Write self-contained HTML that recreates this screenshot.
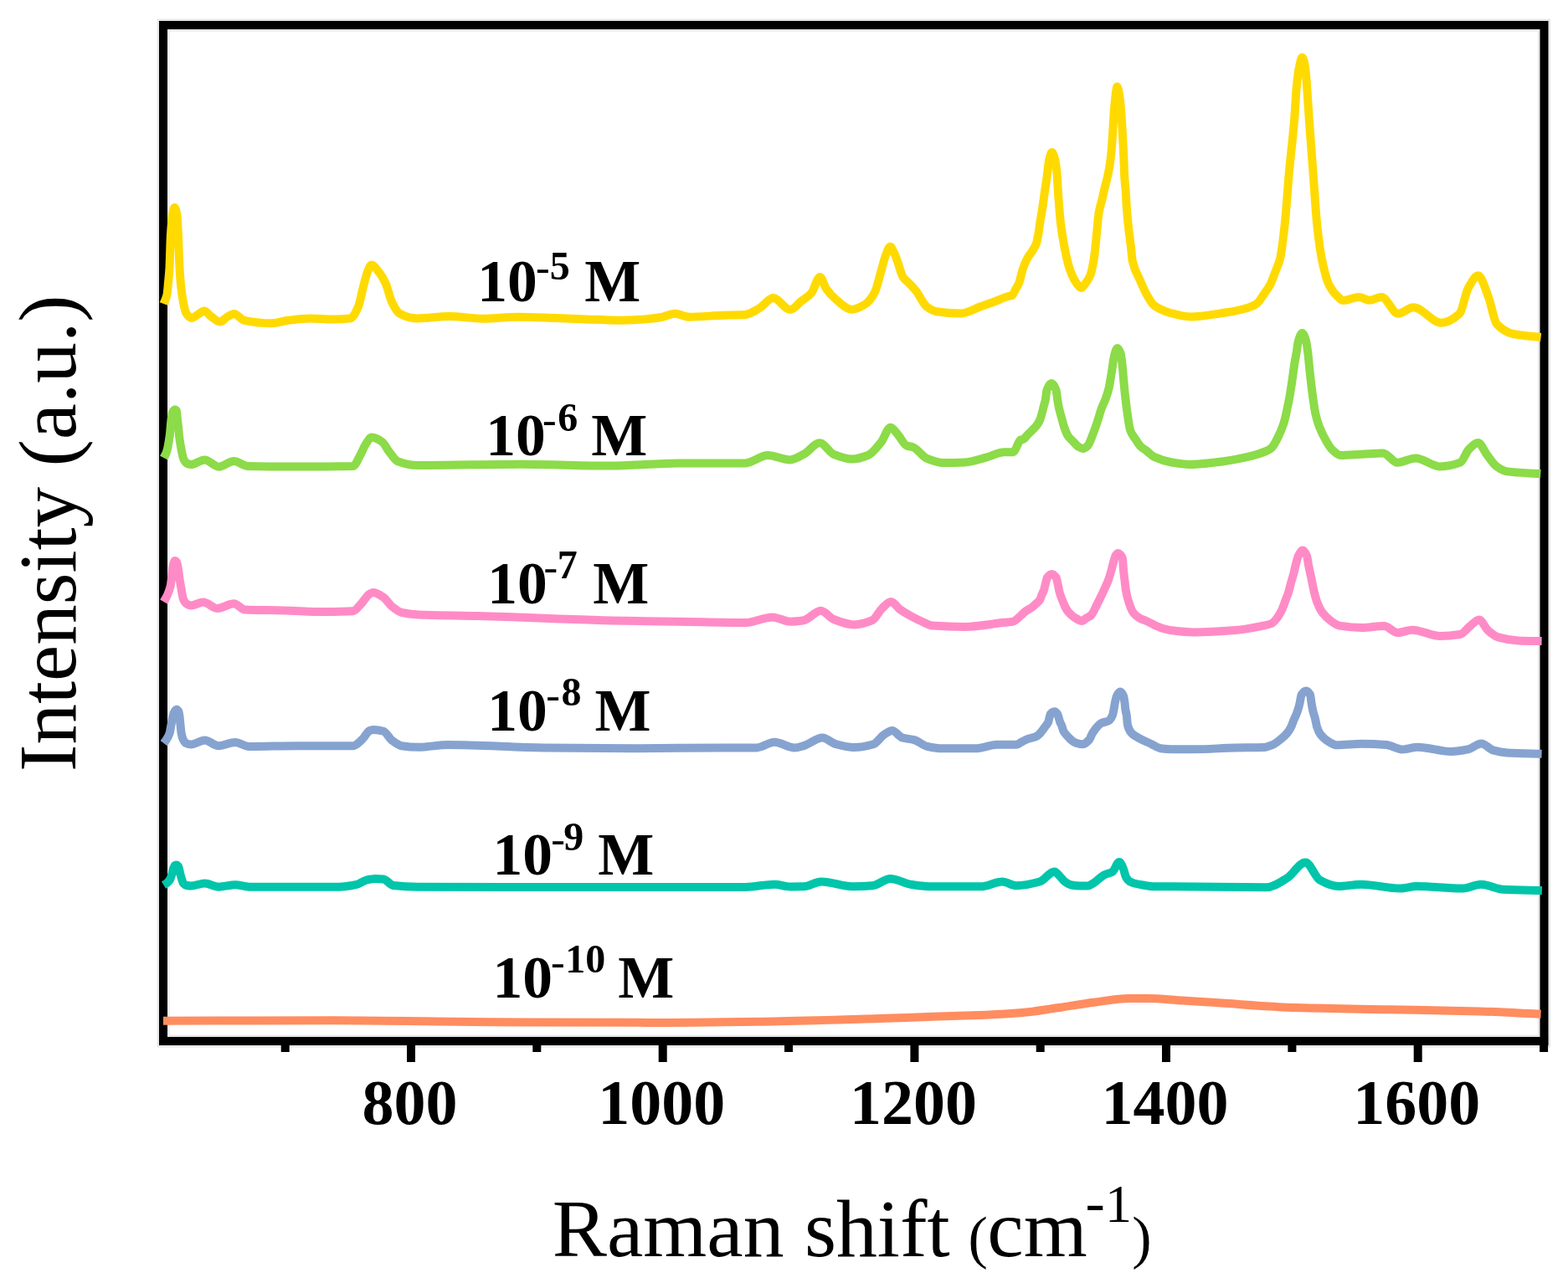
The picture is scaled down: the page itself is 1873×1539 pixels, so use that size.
<!DOCTYPE html>
<html><head><meta charset="utf-8"><style>
html,body{margin:0;padding:0;background:#fff;}
body{width:1873px;height:1539px;overflow:hidden;}
svg{display:block;}
text{font-family:"Liberation Serif","Times New Roman",serif;fill:#000;}
.lb{font-weight:bold;}

.tl{font-size:76px;font-weight:bold;}

</style></head><body>
<svg width="1873" height="1539" viewBox="0 0 1873 1539">
<rect width="1873" height="1539" fill="#fff"/>
<rect x="195" y="30" width="1649.5" height="1214" fill="none" stroke="#e8e8e8" stroke-width="15"/>
<rect x="195" y="30" width="1649.5" height="1214" fill="none" stroke="#000" stroke-width="10"/>
<rect x="486.0" y="1240" width="10" height="29" fill="#000"/>
<rect x="786.7" y="1240" width="10" height="29" fill="#000"/>
<rect x="1087.4" y="1240" width="10" height="29" fill="#000"/>
<rect x="1388.0" y="1240" width="10" height="29" fill="#000"/>
<rect x="1688.7" y="1240" width="10" height="29" fill="#000"/>
<rect x="335.7" y="1240" width="10" height="17" fill="#000"/>
<rect x="636.3" y="1240" width="10" height="17" fill="#000"/>
<rect x="937.0" y="1240" width="10" height="17" fill="#000"/>
<rect x="1237.7" y="1240" width="10" height="17" fill="#000"/>
<rect x="1538.4" y="1240" width="10" height="17" fill="#000"/>
<rect x="1839.1" y="1240" width="10" height="17" fill="#000"/>
<path d="M195.5 363.0C196.8 359.3 198.2 358.2 199.5 352.0C200.0 349.7 200.5 342.8 201.0 337.5C201.5 332.2 202.0 328.4 202.5 320.0C202.9 312.8 203.4 290.3 203.8 283.0C204.6 269.5 205.4 260.4 206.2 256.0C206.9 252.0 207.7 248.0 208.4 248.0C209.4 248.0 210.5 251.4 211.5 257.0C212.0 259.7 212.5 272.8 213.0 283.0C213.5 293.2 214.0 311.5 214.5 320.0C215.1 329.7 215.6 336.7 216.2 342.0C217.0 349.9 217.9 355.8 218.7 360.0C220.0 366.5 221.2 372.6 222.5 374.5C224.7 377.7 226.8 380.0 229.0 380.0C231.3 380.0 233.7 377.3 236.0 376.0C238.7 374.5 241.3 371.5 244.0 371.5C246.7 371.5 249.3 376.2 252.0 378.0C255.7 380.5 259.3 384.5 263.0 384.5C265.7 384.5 268.3 380.5 271.0 379.0C273.8 377.4 276.7 375.0 279.5 375.0C283.6 375.0 287.6 382.0 291.7 382.8C302.7 385.0 313.6 386.3 324.6 386.3C331.3 386.3 337.9 383.6 344.6 382.8C353.2 381.7 361.8 380.4 370.4 380.4C379.4 380.4 388.5 381.6 397.5 381.6C404.5 381.6 411.6 381.3 418.6 380.4C421.7 380.0 424.9 373.4 428.0 366.3C430.0 361.9 431.9 350.2 433.9 342.9C435.8 335.8 437.8 327.0 439.7 322.9C441.1 320.0 442.4 316.5 443.8 316.5C446.8 316.5 449.7 321.5 452.7 325.2C455.4 328.6 458.2 333.3 460.9 339.3C463.2 344.5 465.6 355.7 467.9 360.5C471.0 366.9 474.2 372.9 477.3 374.6C484.0 378.1 490.6 380.4 497.3 380.4C510.4 380.4 523.6 378.0 536.7 378.0C550.1 378.0 563.4 380.7 576.8 380.7C590.5 380.7 604.3 378.7 618.0 378.7C633.2 378.7 648.3 379.5 663.5 380.0C675.7 380.4 687.8 381.1 700.0 381.5C713.3 382.0 726.7 382.7 740.0 382.7C750.0 382.7 760.0 382.1 770.0 381.4C776.7 381.0 783.3 380.1 790.0 379.0C795.3 378.1 800.7 374.7 806.0 374.7C811.8 374.7 817.6 378.7 823.4 378.7C836.8 378.7 850.1 377.2 863.5 376.7C872.3 376.4 881.2 376.5 890.0 376.0C895.8 375.7 901.7 371.3 907.5 368.0C912.8 365.0 918.2 356.0 923.5 356.0C930.3 356.0 937.2 370.0 944.0 370.0C948.3 370.0 952.7 363.4 957.0 360.0C961.1 356.7 965.3 354.7 969.4 349.9C972.7 346.1 976.1 331.0 979.4 331.0C981.9 331.0 984.5 341.7 987.0 345.2C990.9 350.7 994.9 354.8 998.8 358.0C1005.1 363.1 1011.3 369.8 1017.6 369.8C1022.7 369.8 1027.7 367.0 1032.8 364.0C1036.7 361.7 1040.7 357.0 1044.6 349.9C1047.3 345.0 1050.1 332.1 1052.8 322.9C1054.5 317.1 1056.3 309.3 1058.0 305.0C1059.8 300.6 1061.6 294.7 1063.4 294.7C1064.9 294.7 1066.5 299.0 1068.0 302.0C1069.2 304.4 1070.4 307.8 1071.6 311.0C1073.9 317.2 1076.3 327.5 1078.6 331.0C1081.3 335.1 1084.1 336.4 1086.8 339.3C1089.5 342.2 1092.3 345.2 1095.0 348.7C1098.9 353.8 1102.9 363.4 1106.8 366.3C1110.7 369.2 1114.7 371.6 1118.6 372.2C1128.4 373.7 1138.2 374.5 1148.0 374.5C1155.8 374.5 1163.6 369.1 1171.4 366.3C1177.1 364.3 1182.7 362.3 1188.4 360.2C1193.7 358.2 1199.1 355.4 1204.4 354.0C1205.9 353.6 1207.5 353.6 1209.0 353.0C1210.3 352.5 1211.7 348.4 1213.0 346.0C1214.4 343.4 1215.9 341.6 1217.3 338.0C1218.7 334.4 1220.2 326.2 1221.6 322.0C1223.4 316.7 1225.2 312.4 1227.0 309.0C1229.3 304.6 1231.7 302.5 1234.0 298.5C1235.3 296.3 1236.6 294.6 1237.9 291.0C1238.7 288.8 1239.5 284.4 1240.3 280.0C1241.1 275.8 1241.8 268.9 1242.6 264.0C1243.4 258.9 1244.2 255.2 1245.0 250.0C1245.8 244.6 1246.7 237.8 1247.5 232.0C1248.5 225.1 1249.5 219.3 1250.5 212.0C1251.3 205.9 1252.2 195.6 1253.0 192.0C1254.2 187.0 1255.3 182.0 1256.5 182.0C1257.7 182.0 1258.8 185.9 1260.0 190.0C1260.8 192.9 1261.7 198.9 1262.5 207.0C1263.1 212.8 1263.7 226.9 1264.3 235.0C1265.2 247.2 1266.1 259.2 1267.0 266.8C1268.6 280.6 1270.3 289.4 1271.9 297.5C1273.9 307.6 1276.0 316.4 1278.0 322.1C1280.3 328.6 1282.7 333.7 1285.0 337.0C1287.2 340.1 1289.4 344.0 1291.6 344.0C1293.4 344.0 1295.2 340.4 1297.0 338.0C1298.9 335.5 1300.7 333.1 1302.6 328.2C1304.2 323.9 1305.9 314.9 1307.5 303.7C1308.3 298.0 1309.2 287.3 1310.0 279.1C1310.8 270.9 1311.7 259.6 1312.5 254.6C1313.7 247.6 1314.8 244.9 1316.0 240.0C1317.2 235.1 1318.3 229.8 1319.5 225.0C1320.7 220.2 1321.8 216.3 1323.0 211.0C1323.8 207.2 1324.7 203.3 1325.5 198.0C1326.2 193.8 1326.8 188.9 1327.5 182.0C1328.1 176.2 1328.6 166.4 1329.2 158.0C1329.8 149.1 1330.4 137.3 1331.0 130.0C1331.6 122.7 1332.2 116.0 1332.8 112.0C1333.4 108.2 1333.9 103.5 1334.5 103.5C1335.7 103.5 1336.8 111.7 1338.0 120.0C1338.9 126.7 1339.9 142.7 1340.8 158.0C1341.3 166.2 1341.8 176.1 1342.3 187.5C1342.6 194.3 1342.9 205.9 1343.2 211.0C1343.7 220.0 1344.3 222.0 1344.8 230.0C1345.1 234.0 1345.3 241.1 1345.6 245.0C1346.5 257.6 1347.3 265.6 1348.2 273.5C1349.1 281.4 1349.9 286.7 1350.8 294.0C1351.5 299.6 1352.1 309.0 1352.8 312.0C1355.7 325.2 1358.7 327.6 1361.6 334.4C1364.5 341.1 1367.3 347.9 1370.2 352.8C1373.1 357.7 1375.9 362.9 1378.8 365.1C1384.9 369.7 1391.1 372.0 1397.2 373.7C1405.5 376.0 1413.7 378.4 1422.0 378.4C1435.9 378.4 1449.8 375.6 1463.7 373.5C1472.5 372.2 1481.2 370.6 1490.0 368.0C1493.5 367.0 1496.9 365.8 1500.4 363.6C1503.9 361.4 1507.3 354.9 1510.8 350.0C1512.9 347.1 1514.9 344.6 1517.0 340.7C1519.1 336.8 1521.2 330.5 1523.3 325.0C1525.2 320.1 1527.1 317.0 1529.0 309.5C1530.9 302.0 1532.8 285.3 1534.7 268.0C1536.4 252.2 1538.2 224.6 1539.9 205.6C1542.0 182.9 1544.0 168.2 1546.1 143.2C1547.1 131.5 1548.0 110.9 1549.0 101.6C1550.0 92.0 1551.0 84.6 1552.0 80.0C1553.2 74.7 1554.3 68.5 1555.5 68.5C1556.7 68.5 1557.8 73.8 1559.0 80.0C1559.7 83.5 1560.3 93.3 1561.0 101.6C1561.9 113.2 1562.9 130.0 1563.8 143.2C1565.4 165.3 1566.9 184.8 1568.5 205.6C1570.1 226.4 1571.6 253.1 1573.2 268.0C1575.1 286.0 1577.0 300.2 1578.9 309.5C1581.8 323.8 1584.8 335.0 1587.7 340.7C1591.4 347.8 1595.0 351.8 1598.7 355.0C1600.6 356.7 1602.5 359.0 1604.4 359.0C1610.7 359.0 1617.0 355.0 1623.3 355.0C1627.4 355.0 1631.5 358.7 1635.6 358.7C1640.5 358.7 1645.4 355.0 1650.3 355.0C1656.9 355.0 1663.4 374.7 1670.0 374.7C1676.1 374.7 1682.3 367.3 1688.4 367.3C1699.4 367.3 1710.5 385.7 1721.5 385.7C1728.9 385.7 1736.2 381.6 1743.6 374.7C1746.9 371.6 1750.2 351.0 1753.5 345.0C1757.6 337.6 1761.6 329.3 1765.7 329.3C1769.8 329.3 1773.9 344.5 1778.0 355.0C1781.3 363.4 1784.5 383.4 1787.8 387.0C1794.4 394.3 1800.9 397.6 1807.5 399.0C1818.5 401.4 1829.6 401.7 1840.6 403.0" fill="none" stroke="#FFDA00" stroke-width="10" stroke-linejoin="round" stroke-linecap="butt"/>
<path d="M195.5 547.0C196.7 544.7 197.8 543.4 199.0 540.0C200.3 536.4 201.5 529.2 202.8 520.0C203.4 515.4 204.1 503.9 204.7 500.0C205.3 496.3 205.9 493.0 206.5 492.0C207.3 490.6 208.2 489.5 209.0 489.5C209.7 489.5 210.3 489.9 211.0 491.0C211.3 491.4 211.5 497.4 211.8 500.0C212.2 503.9 212.6 506.4 213.0 510.0C213.4 513.9 213.9 519.7 214.3 523.0C215.1 529.4 216.0 533.9 216.8 538.0C217.7 542.4 218.6 547.4 219.5 549.0C221.0 551.8 222.5 553.4 224.0 554.0C225.3 554.5 226.7 555.0 228.0 555.0C233.5 555.0 239.1 549.4 244.6 549.4C250.1 549.4 255.7 557.7 261.2 557.7C267.3 557.7 273.3 551.1 279.4 551.1C284.9 551.1 290.5 556.8 296.0 556.9C314.0 557.4 332.0 557.5 350.0 557.5C373.9 557.5 397.8 557.4 421.7 557.0C424.5 556.9 427.2 549.3 430.0 544.5C432.2 540.7 434.4 534.5 436.6 531.2C439.1 527.5 441.5 522.5 444.0 522.5C448.2 522.5 452.3 525.1 456.5 528.0C459.2 529.9 462.0 536.0 464.7 539.5C468.0 543.7 471.4 549.8 474.7 551.1C483.0 554.2 491.2 556.0 499.5 556.0C540.8 556.0 582.2 554.7 623.5 554.7C659.0 554.7 694.5 556.6 730.0 556.6C756.7 556.6 783.3 553.4 810.0 553.4C836.8 553.4 863.6 553.4 890.4 553.4C899.3 553.4 908.1 544.0 917.0 544.0C925.9 544.0 934.9 549.4 943.8 549.4C949.2 549.4 954.6 545.6 960.0 542.8C966.4 539.5 972.8 529.3 979.2 529.3C984.8 529.3 990.3 540.5 995.9 542.8C1003.2 545.7 1010.4 548.5 1017.7 548.5C1024.1 548.5 1030.5 546.5 1036.9 544.0C1042.0 542.0 1047.2 535.0 1052.3 528.7C1056.1 524.0 1060.0 510.7 1063.8 510.7C1066.8 510.7 1069.8 516.4 1072.8 519.7C1076.2 523.5 1079.6 531.1 1083.0 532.5C1085.6 533.5 1088.1 533.5 1090.7 534.4C1096.3 536.4 1101.8 545.6 1107.4 547.9C1113.8 550.5 1120.2 553.0 1126.6 553.0C1135.1 553.0 1143.7 552.8 1152.2 552.4C1160.7 552.0 1169.3 548.8 1177.8 546.6C1185.1 544.7 1192.3 540.2 1199.6 540.2C1203.1 540.2 1206.7 540.2 1210.2 540.2C1213.2 540.2 1216.2 526.6 1219.2 525.6C1220.1 525.3 1221.1 525.3 1222.0 525.0C1224.0 524.3 1226.0 521.0 1228.0 519.0C1230.3 516.7 1232.7 514.5 1235.0 512.0C1236.2 510.7 1237.4 509.6 1238.6 508.0C1239.9 506.2 1241.2 504.1 1242.5 501.0C1243.2 499.3 1243.9 496.5 1244.6 494.0C1245.3 491.6 1245.9 488.6 1246.6 486.0C1247.3 483.3 1248.0 481.6 1248.7 478.2C1249.3 475.3 1249.9 467.6 1250.5 466.0C1252.3 461.1 1254.2 458.0 1256.0 458.0C1257.8 458.0 1259.7 461.1 1261.5 466.0C1262.1 467.6 1262.7 474.5 1263.3 478.2C1263.9 481.7 1264.4 485.1 1265.0 487.7C1266.1 492.7 1267.2 496.0 1268.3 500.0C1269.3 503.8 1270.4 508.1 1271.4 511.0C1272.9 515.1 1274.3 518.8 1275.8 521.0C1277.7 523.8 1279.5 525.1 1281.4 527.0C1283.6 529.3 1285.8 532.3 1288.0 533.6C1289.9 534.7 1291.8 536.0 1293.7 536.0C1295.5 536.0 1297.2 534.6 1299.0 533.0C1301.3 531.0 1303.7 523.3 1306.0 517.5C1307.6 513.5 1309.2 508.8 1310.8 504.0C1312.5 499.0 1314.1 492.5 1315.8 488.0C1317.4 483.8 1318.9 481.3 1320.5 477.0C1321.8 473.4 1323.2 469.6 1324.5 464.0C1325.7 459.1 1326.8 451.0 1328.0 444.0C1329.0 438.0 1330.0 428.6 1331.0 425.0C1332.2 420.6 1333.5 416.0 1334.7 416.0C1336.0 416.0 1337.2 418.6 1338.5 422.0C1339.2 423.8 1339.8 429.4 1340.5 435.0C1341.0 439.2 1341.5 446.6 1342.0 452.0C1342.7 459.2 1343.3 466.7 1344.0 472.8C1344.9 480.7 1345.7 487.7 1346.6 493.6C1347.8 501.7 1349.0 511.1 1350.2 514.4C1352.3 520.2 1354.4 521.7 1356.5 525.0C1358.3 527.9 1360.2 531.1 1362.0 533.0C1364.7 535.7 1367.3 536.9 1370.0 539.0C1372.8 541.2 1375.6 544.4 1378.4 545.8C1385.5 549.2 1392.6 551.3 1399.7 552.5C1406.7 553.7 1413.7 554.9 1420.7 554.9C1430.9 554.9 1441.2 553.6 1451.4 552.5C1463.7 551.2 1475.9 549.0 1488.2 546.3C1496.4 544.5 1504.6 542.5 1512.8 538.9C1514.9 538.0 1516.9 536.9 1519.0 535.0C1521.9 532.4 1524.8 526.0 1527.7 520.0C1529.8 515.7 1531.8 511.0 1533.9 504.3C1535.1 500.4 1536.3 494.4 1537.5 488.8C1538.6 483.7 1539.7 478.3 1540.8 472.0C1541.8 466.3 1542.8 459.2 1543.8 452.4C1544.6 446.7 1545.5 439.7 1546.3 434.5C1547.1 429.5 1547.9 425.7 1548.7 421.0C1549.5 416.5 1550.2 409.4 1551.0 407.0C1552.5 402.2 1554.0 398.0 1555.5 398.0C1557.0 398.0 1558.5 402.1 1560.0 407.0C1560.7 409.4 1561.5 415.4 1562.2 421.0C1563.1 427.8 1564.0 438.9 1564.9 447.0C1565.9 456.3 1567.0 465.5 1568.0 473.0C1569.1 481.0 1570.2 489.0 1571.3 494.0C1572.9 501.1 1574.4 505.9 1576.0 510.0C1578.9 517.7 1581.9 523.1 1584.8 528.0C1586.9 531.5 1588.9 535.0 1591.0 537.0C1594.4 540.2 1597.8 543.9 1601.2 543.9C1609.7 543.9 1618.2 543.1 1626.7 542.7C1635.1 542.3 1643.6 541.4 1652.0 541.4C1657.8 541.4 1663.6 552.7 1669.4 552.7C1676.5 552.7 1683.7 547.4 1690.8 547.4C1700.6 547.4 1710.3 557.4 1720.1 557.4C1728.1 557.4 1736.2 555.8 1744.2 552.7C1747.7 551.3 1751.3 540.1 1754.8 536.7C1758.4 533.2 1761.9 529.0 1765.5 529.0C1769.1 529.0 1772.6 538.8 1776.2 543.4C1779.8 548.0 1783.3 554.1 1786.9 556.7C1791.3 559.9 1795.8 562.8 1800.2 563.4C1813.6 565.2 1826.9 565.2 1840.3 566.1" fill="none" stroke="#8CDB48" stroke-width="10" stroke-linejoin="round" stroke-linecap="butt"/>
<path d="M195.5 719.0C196.8 716.7 198.2 714.9 199.5 712.0C200.9 709.0 202.3 706.2 203.7 700.0C204.3 697.3 204.9 690.5 205.5 686.0C206.0 682.2 206.5 676.9 207.0 675.0C207.7 672.5 208.3 670.0 209.0 670.0C209.7 670.0 210.3 670.6 211.0 671.5C211.6 672.2 212.1 676.0 212.7 679.0C213.4 682.7 214.1 689.1 214.8 693.5C215.5 697.7 216.1 701.4 216.8 705.0C217.5 708.9 218.3 714.3 219.0 716.0C220.3 719.0 221.7 720.7 223.0 721.5C224.7 722.6 226.3 723.5 228.0 723.5C233.0 723.5 238.0 719.5 243.0 719.5C248.5 719.5 254.0 727.0 259.5 727.0C266.1 727.0 272.8 721.2 279.4 721.2C283.8 721.2 288.2 728.4 292.6 728.6C308.1 729.2 323.5 729.0 339.0 729.4C355.5 729.8 372.1 731.1 388.6 731.1C399.6 731.1 410.7 730.9 421.7 730.3C425.0 730.1 428.3 724.6 431.6 721.2C434.9 717.8 438.3 711.4 441.6 709.6C443.0 708.9 444.3 708.0 445.7 708.0C449.8 708.0 454.0 711.0 458.1 713.7C461.4 715.9 464.7 721.8 468.0 724.5C471.9 727.6 475.7 731.0 479.6 731.9C486.2 733.4 492.9 734.1 499.5 734.4C523.0 735.4 546.5 735.4 570.0 736.0C596.7 736.7 623.5 737.8 650.2 738.7C676.9 739.6 703.6 740.8 730.3 741.4C757.0 742.0 783.6 742.3 810.3 742.7C837.0 743.1 863.7 744.0 890.4 744.0C901.1 744.0 911.8 737.4 922.5 737.4C929.6 737.4 936.7 742.7 943.8 742.7C949.2 742.7 954.6 742.0 960.0 741.2C966.8 740.1 973.7 729.7 980.5 729.7C985.6 729.7 990.8 738.0 995.9 740.0C1004.0 743.2 1012.1 746.4 1020.2 746.4C1027.5 746.4 1034.7 744.3 1042.0 741.2C1045.8 739.6 1049.7 730.6 1053.5 727.1C1057.1 723.7 1060.8 719.0 1064.4 719.0C1068.0 719.0 1071.7 725.8 1075.3 728.4C1079.6 731.4 1083.8 733.8 1088.1 736.1C1092.4 738.4 1096.7 740.6 1101.0 742.5C1105.3 744.4 1109.5 747.3 1113.8 747.6C1126.6 748.5 1139.4 748.9 1152.2 748.9C1168.0 748.9 1183.8 745.6 1199.6 743.8C1203.1 743.4 1206.7 743.3 1210.2 742.6C1213.5 741.9 1216.7 737.7 1220.0 735.0C1221.7 733.5 1223.5 731.6 1225.2 730.3C1227.8 728.4 1230.4 727.4 1233.0 725.5C1234.7 724.3 1236.3 722.6 1238.0 721.0C1239.4 719.7 1240.7 718.9 1242.1 716.8C1242.9 715.6 1243.6 712.8 1244.4 711.0C1245.2 709.1 1246.0 707.8 1246.8 705.5C1247.4 703.9 1247.9 701.1 1248.5 699.0C1249.3 695.9 1250.2 691.1 1251.0 690.0C1252.8 687.6 1254.6 686.0 1256.4 686.0C1258.1 686.0 1259.8 687.6 1261.5 690.0C1262.3 691.1 1263.0 695.8 1263.8 699.0C1264.5 702.1 1265.3 706.5 1266.0 709.0C1267.0 712.3 1267.9 714.3 1268.9 716.8C1269.8 719.1 1270.7 721.6 1271.6 723.5C1273.0 726.4 1274.4 729.1 1275.8 730.8C1278.0 733.5 1280.2 735.6 1282.4 737.0C1285.9 739.3 1289.3 742.0 1292.8 742.0C1294.2 742.0 1295.6 739.9 1297.0 739.0C1299.2 737.6 1301.3 737.0 1303.5 735.0C1305.8 732.9 1308.2 726.5 1310.5 722.0C1312.0 719.1 1313.5 716.1 1315.0 713.0C1316.4 710.1 1317.8 707.1 1319.2 704.0C1320.7 700.6 1322.3 697.6 1323.8 693.5C1325.0 690.3 1326.2 686.2 1327.4 682.0C1328.4 678.4 1329.5 673.3 1330.5 670.0C1331.3 667.3 1332.2 664.0 1333.0 663.0C1333.8 662.0 1334.7 661.0 1335.5 661.0C1336.5 661.0 1337.5 662.0 1338.5 663.0C1339.3 663.8 1340.2 664.8 1341.0 668.0C1341.3 669.3 1341.7 677.5 1342.0 681.0C1342.5 685.9 1342.9 689.1 1343.4 693.0C1343.9 697.2 1344.4 702.6 1344.9 705.5C1346.1 712.3 1347.3 716.4 1348.5 720.0C1350.3 725.4 1352.2 730.2 1354.0 732.5C1356.7 735.8 1359.3 737.6 1362.0 739.0C1364.5 740.3 1366.9 740.9 1369.4 742.0C1375.0 744.4 1380.6 748.1 1386.2 749.9C1390.7 751.3 1395.2 752.6 1399.7 753.2C1408.7 754.4 1417.8 755.4 1426.8 755.4C1443.2 755.4 1459.6 754.3 1476.0 753.0C1486.2 752.2 1496.5 750.2 1506.7 748.1C1510.8 747.3 1514.9 746.8 1519.0 745.0C1521.5 743.9 1524.0 740.4 1526.5 737.0C1528.3 734.5 1530.2 731.1 1532.0 727.0C1533.3 724.0 1534.7 719.5 1536.0 716.0C1537.0 713.4 1537.9 711.5 1538.9 708.5C1540.0 705.1 1541.1 700.0 1542.2 696.0C1543.3 692.2 1544.3 689.1 1545.4 685.0C1546.2 682.0 1546.9 677.9 1547.7 675.0C1548.8 670.8 1549.9 666.1 1551.0 664.0C1552.7 660.8 1554.3 657.5 1556.0 657.5C1557.7 657.5 1559.3 660.2 1561.0 664.0C1561.7 665.5 1562.3 671.6 1563.0 675.0C1564.1 680.8 1565.3 685.6 1566.4 691.0C1567.4 695.9 1568.5 701.8 1569.5 706.0C1570.8 711.5 1572.2 716.6 1573.5 720.0C1575.6 725.3 1577.6 729.3 1579.7 732.0C1583.1 736.6 1586.6 739.6 1590.0 742.0C1593.3 744.4 1596.7 747.0 1600.0 747.6C1608.9 749.1 1617.8 750.0 1626.7 750.0C1635.6 750.0 1644.5 748.0 1653.4 748.0C1658.7 748.0 1664.1 756.1 1669.4 756.1C1675.2 756.1 1681.0 752.7 1686.8 752.7C1697.9 752.7 1709.0 760.0 1720.1 760.0C1728.1 760.0 1736.2 759.3 1744.2 758.0C1748.2 757.3 1752.2 751.1 1756.2 748.0C1759.7 745.3 1763.3 740.5 1766.8 740.5C1770.4 740.5 1773.9 750.3 1777.5 753.4C1781.5 756.9 1785.5 760.3 1789.5 761.4C1797.5 763.7 1805.6 765.0 1813.6 765.4C1822.9 765.8 1832.3 765.9 1841.6 766.1" fill="none" stroke="#FF8BC6" stroke-width="10" stroke-linejoin="round" stroke-linecap="butt"/>
<path d="M195.5 888.0C196.7 886.5 197.8 885.4 199.0 883.5C200.3 881.5 201.5 879.6 202.8 875.5C203.4 873.7 203.9 869.0 204.5 866.0C205.2 862.5 205.8 858.5 206.5 856.0C207.2 853.5 207.8 851.0 208.5 850.0C209.3 848.8 210.2 847.7 211.0 847.7C211.8 847.7 212.5 848.6 213.3 850.0C213.7 850.7 214.1 853.3 214.5 856.0C214.8 858.2 215.2 862.8 215.5 866.0C215.8 869.2 216.2 873.6 216.5 875.5C217.2 879.3 217.8 881.6 218.5 883.0C219.7 885.5 220.8 887.5 222.0 888.0C224.0 888.9 226.0 889.5 228.0 889.5C233.5 889.5 239.1 884.5 244.6 884.5C250.1 884.5 255.7 891.2 261.2 891.2C267.8 891.2 274.4 887.0 281.0 887.0C286.5 887.0 292.1 892.0 297.6 892.0C316.9 892.0 336.2 891.2 355.5 891.2C377.6 891.2 399.6 891.2 421.7 891.2C425.6 891.2 429.4 886.4 433.3 882.9C436.1 880.4 438.8 873.9 441.6 873.0C443.2 872.5 444.9 872.0 446.5 872.0C450.4 872.0 454.2 872.7 458.1 873.8C461.4 874.7 464.7 882.0 468.0 884.5C471.9 887.4 475.7 890.6 479.6 891.2C486.2 892.2 492.9 892.8 499.5 892.8C511.5 892.8 523.4 890.0 535.4 890.0C573.7 890.0 611.9 892.9 650.2 893.4C685.8 893.8 721.4 894.2 757.0 894.2C792.6 894.2 828.1 893.4 863.7 893.4C877.1 893.4 890.4 893.4 903.8 893.4C910.9 893.4 918.0 886.7 925.1 886.7C933.1 886.7 941.2 893.4 949.2 893.4C952.8 893.4 956.4 892.1 960.0 891.1C967.5 889.1 974.9 881.5 982.4 881.5C987.7 881.5 993.1 887.8 998.4 889.2C1005.7 891.1 1012.9 893.0 1020.2 893.0C1027.9 893.0 1035.6 891.5 1043.3 889.2C1047.6 887.9 1051.8 880.4 1056.1 877.7C1059.3 875.7 1062.5 873.0 1065.7 873.0C1069.8 873.0 1073.8 880.3 1077.9 881.5C1082.6 882.9 1087.3 882.8 1092.0 884.1C1097.1 885.5 1102.3 890.7 1107.4 891.8C1113.8 893.2 1120.2 894.3 1126.6 894.3C1139.4 894.3 1152.2 894.3 1165.0 894.3C1173.6 894.3 1182.1 889.9 1190.7 889.8C1198.7 889.7 1206.7 889.8 1214.7 889.7C1216.5 889.7 1218.2 887.6 1220.0 886.7C1222.8 885.2 1225.7 883.6 1228.5 882.6C1231.7 881.5 1234.8 881.3 1238.0 879.9C1239.8 879.1 1241.7 876.9 1243.5 874.9C1245.2 873.0 1246.9 870.4 1248.6 868.0C1249.8 866.4 1250.9 865.4 1252.1 863.0C1253.0 861.1 1254.0 853.9 1254.9 853.0C1256.6 851.3 1258.3 850.3 1260.0 850.3C1261.0 850.3 1262.0 851.6 1263.0 853.0C1264.1 854.5 1265.2 860.3 1266.3 863.0C1267.0 864.7 1267.7 865.7 1268.4 867.5C1269.0 869.1 1269.7 872.3 1270.3 873.5C1272.1 876.9 1273.8 878.2 1275.6 880.1C1277.3 882.0 1279.0 883.9 1280.7 885.1C1282.5 886.4 1284.4 887.5 1286.2 888.0C1288.5 888.7 1290.9 889.3 1293.2 889.3C1295.8 889.3 1298.4 886.8 1301.0 884.0C1302.3 882.6 1303.7 878.2 1305.0 876.0C1307.0 872.8 1309.0 870.0 1311.0 868.0C1312.7 866.3 1314.3 864.6 1316.0 863.8C1318.7 862.6 1321.3 862.8 1324.0 861.4C1325.6 860.6 1327.3 858.5 1328.9 854.8C1329.4 853.6 1330.0 850.3 1330.5 847.6C1331.0 845.1 1331.5 841.3 1332.0 839.0C1332.7 835.9 1333.3 832.8 1334.0 831.5C1335.3 828.9 1336.7 826.5 1338.0 826.5C1339.3 826.5 1340.7 828.5 1342.0 831.5C1342.5 832.6 1343.0 836.4 1343.5 840.0C1343.8 841.9 1344.0 845.8 1344.3 847.6C1344.8 850.9 1345.3 851.5 1345.8 854.8C1346.2 857.2 1346.5 864.4 1346.9 866.0C1348.2 871.5 1349.5 873.4 1350.8 875.0C1352.6 877.3 1354.5 878.3 1356.3 879.5C1358.1 880.7 1360.0 881.7 1361.8 882.7C1366.4 885.1 1371.0 887.0 1375.6 889.2C1379.1 890.9 1382.7 893.7 1386.2 894.2C1390.7 894.8 1395.2 895.3 1399.7 895.3C1408.7 895.3 1417.8 895.3 1426.8 895.3C1443.2 895.3 1459.6 893.8 1476.0 893.5C1487.3 893.3 1498.7 893.4 1510.0 893.0C1513.3 892.9 1516.7 891.4 1520.0 890.0C1523.3 888.6 1526.7 885.9 1530.0 883.2C1532.5 881.2 1535.0 879.0 1537.5 876.0C1539.1 874.1 1540.7 871.7 1542.3 868.5C1543.3 866.6 1544.2 863.3 1545.2 861.0C1546.2 858.5 1547.3 856.6 1548.3 854.0C1549.2 851.7 1550.1 849.3 1551.0 846.3C1551.5 844.6 1552.0 842.5 1552.5 840.4C1553.2 837.3 1554.0 831.2 1554.7 830.0C1556.5 827.2 1558.2 825.5 1560.0 825.5C1561.7 825.5 1563.3 827.0 1565.0 830.0C1565.5 831.0 1566.1 837.3 1566.6 840.4C1567.2 843.9 1567.8 847.3 1568.4 849.8C1569.2 853.1 1570.0 854.9 1570.8 858.0C1571.6 861.0 1572.3 866.1 1573.1 868.5C1574.4 872.6 1575.8 875.5 1577.1 877.3C1580.7 882.1 1584.2 884.6 1587.8 886.6C1590.7 888.2 1593.6 890.3 1596.5 890.3C1606.6 890.3 1616.6 888.7 1626.7 888.7C1636.5 888.7 1646.3 889.2 1656.1 890.0C1662.3 890.5 1668.5 895.4 1674.7 895.4C1680.9 895.4 1687.2 892.7 1693.4 892.7C1706.8 892.7 1720.1 898.0 1733.5 898.0C1740.2 898.0 1746.8 896.8 1753.5 895.4C1758.8 894.3 1764.2 888.5 1769.5 888.5C1774.4 888.5 1779.3 895.4 1784.2 896.7C1789.5 898.1 1794.9 899.1 1800.2 899.4C1814.0 900.2 1827.8 900.3 1841.6 900.7" fill="none" stroke="#86A3D0" stroke-width="10" stroke-linejoin="round" stroke-linecap="butt"/>
<path d="M195.5 1057.5C196.8 1056.7 198.2 1056.1 199.5 1055.0C200.7 1054.1 201.8 1052.9 203.0 1051.0C203.8 1049.6 204.7 1046.6 205.5 1044.0C206.2 1041.9 206.8 1038.7 207.5 1037.0C208.0 1035.7 208.5 1034.2 209.0 1034.0C209.7 1033.7 210.3 1033.5 211.0 1033.5C211.7 1033.5 212.3 1034.2 213.0 1035.0C213.8 1036.0 214.6 1041.6 215.4 1044.5C216.0 1046.8 216.7 1049.1 217.3 1051.0C217.9 1052.7 218.4 1054.9 219.0 1055.5C220.3 1057.0 221.7 1057.8 223.0 1058.0C224.7 1058.3 226.3 1058.5 228.0 1058.5C233.5 1058.5 239.1 1055.5 244.6 1055.5C250.1 1055.5 255.7 1059.7 261.2 1059.7C267.8 1059.7 274.4 1057.2 281.0 1057.2C286.5 1057.2 292.1 1059.7 297.6 1059.7C333.5 1059.7 369.3 1059.7 405.2 1059.7C411.8 1059.7 418.4 1058.5 425.0 1057.2C429.4 1056.3 433.9 1052.3 438.3 1051.4C441.6 1050.7 444.9 1050.0 448.2 1050.0C451.5 1050.0 454.8 1050.2 458.1 1050.5C462.0 1050.9 465.8 1057.5 469.7 1058.0C479.6 1059.2 489.6 1059.7 499.5 1059.7C567.5 1059.9 635.6 1059.9 703.6 1059.9C765.9 1059.9 828.1 1059.9 890.4 1059.9C902.0 1059.9 913.5 1056.7 925.1 1056.7C931.3 1056.7 937.6 1059.4 943.8 1059.4C949.2 1059.4 954.6 1059.4 960.0 1059.3C967.0 1059.2 974.1 1053.5 981.1 1053.5C993.6 1053.5 1006.2 1059.3 1018.7 1059.3C1026.5 1059.3 1034.4 1058.9 1042.2 1058.2C1049.3 1057.6 1056.3 1049.9 1063.4 1049.9C1072.0 1049.9 1080.6 1055.8 1089.2 1057.0C1097.0 1058.1 1104.9 1059.3 1112.7 1059.3C1132.3 1059.3 1151.8 1059.3 1171.4 1059.3C1180.0 1059.3 1188.7 1053.5 1197.3 1053.5C1202.8 1053.5 1208.2 1058.2 1213.7 1058.2C1223.1 1058.2 1232.5 1056.1 1241.9 1053.5C1247.8 1051.9 1253.6 1041.5 1259.5 1041.5C1261.7 1041.5 1263.8 1044.9 1266.0 1047.0C1268.0 1048.9 1270.0 1052.1 1272.0 1053.5C1274.7 1055.4 1277.3 1057.0 1280.0 1057.5C1283.3 1058.1 1286.7 1058.5 1290.0 1058.5C1293.0 1058.5 1296.0 1058.5 1299.0 1058.5C1301.1 1058.5 1303.2 1056.9 1305.3 1055.8C1310.0 1053.3 1314.7 1047.5 1319.4 1045.2C1322.5 1043.7 1325.7 1043.6 1328.8 1041.7C1331.5 1040.1 1334.3 1030.0 1337.0 1030.0C1338.5 1030.0 1340.0 1033.8 1341.5 1037.0C1342.7 1039.5 1343.8 1045.9 1345.0 1048.0C1346.3 1050.4 1347.7 1052.1 1349.0 1053.0C1351.0 1054.3 1353.0 1054.9 1355.0 1055.5C1358.3 1056.4 1361.7 1057.0 1365.0 1057.5C1369.4 1058.2 1373.7 1059.3 1378.1 1059.3C1385.2 1059.3 1392.2 1059.3 1399.3 1059.3C1437.1 1059.3 1475.0 1060.3 1512.8 1060.3C1521.0 1060.3 1529.1 1054.1 1537.3 1049.3C1544.7 1044.9 1552.0 1030.5 1559.4 1030.5C1565.1 1030.5 1570.9 1048.6 1576.6 1051.7C1584.0 1055.7 1591.3 1059.1 1598.7 1059.1C1607.7 1059.1 1616.8 1056.7 1625.8 1056.7C1641.3 1056.7 1656.9 1061.6 1672.4 1061.6C1679.0 1061.6 1685.5 1059.1 1692.1 1059.1C1710.1 1059.1 1728.1 1061.6 1746.1 1061.6C1753.9 1061.6 1761.6 1056.7 1769.4 1056.7C1778.0 1056.7 1786.6 1062.4 1795.2 1062.8C1810.8 1063.6 1826.3 1063.6 1841.9 1064.0" fill="none" stroke="#00C5AA" stroke-width="10" stroke-linejoin="round" stroke-linecap="butt"/>
<path d="M195.0 1219.7C263.3 1219.6 331.7 1219.3 400.0 1219.3C462.3 1219.3 524.5 1220.9 586.8 1221.2C649.1 1221.5 711.4 1221.9 773.7 1221.9C823.5 1221.9 873.4 1221.1 923.2 1220.4C965.5 1219.8 1007.7 1218.3 1050.0 1217.0C1071.3 1216.3 1092.7 1215.5 1114.0 1214.8C1135.4 1214.1 1156.7 1213.6 1178.1 1212.7C1192.3 1212.1 1206.6 1211.3 1220.8 1210.1C1235.0 1208.9 1249.3 1206.2 1263.5 1204.2C1277.7 1202.2 1292.0 1199.6 1306.2 1197.8C1320.5 1196.0 1334.7 1193.1 1349.0 1193.1C1356.1 1193.1 1363.2 1193.1 1370.3 1193.1C1384.5 1193.1 1398.8 1194.8 1413.0 1195.6C1425.1 1196.3 1437.2 1197.1 1449.3 1197.8C1482.7 1199.9 1516.1 1203.1 1549.5 1204.1C1586.0 1205.2 1622.4 1205.6 1658.9 1206.3C1695.4 1207.0 1731.9 1207.5 1768.4 1208.5C1792.5 1209.2 1816.5 1210.6 1840.6 1211.7" fill="none" stroke="#FF8D60" stroke-width="10" stroke-linejoin="round" stroke-linecap="butt"/>
<text x="489.6" y="1343" class="tl" text-anchor="middle">800</text>
<text x="790.3" y="1343" class="tl" text-anchor="middle">1000</text>
<text x="1091.0" y="1343" class="tl" text-anchor="middle">1200</text>
<text x="1391.6" y="1343" class="tl" text-anchor="middle">1400</text>
<text x="1692.3" y="1343" class="tl" text-anchor="middle">1600</text>
<text class="lb"><tspan x="570.2" y="360.3" font-size="71.5">10</tspan><tspan x="640.1" y="336.2" font-size="50" font-weight="normal">-</tspan><tspan x="656.7" y="334.0" font-size="48">5</tspan><tspan x="680.5" y="360.3" font-size="71"> M</tspan></text>
<text class="lb"><tspan x="580.2" y="544.3" font-size="71.5">10</tspan><tspan x="648.0" y="517.5" font-size="50" font-weight="normal">-</tspan><tspan x="666.2" y="515.0" font-size="48">6</tspan><tspan x="688.4" y="544.3" font-size="71"> M</tspan></text>
<text class="lb"><tspan x="582.3" y="720.9" font-size="71.5">10</tspan><tspan x="649.5" y="693.6" font-size="50" font-weight="normal">-</tspan><tspan x="665.7" y="691.0" font-size="48">7</tspan><tspan x="690.5" y="720.9" font-size="71"> M</tspan></text>
<text class="lb"><tspan x="582.3" y="873.0" font-size="71.5">10</tspan><tspan x="652.2" y="847.0" font-size="50" font-weight="normal">-</tspan><tspan x="670.4" y="843.2" font-size="48">8</tspan><tspan x="692.7" y="873.0" font-size="71"> M</tspan></text>
<text class="lb"><tspan x="588.4" y="1044.8" font-size="71.5">10</tspan><tspan x="658.3" y="1018.6" font-size="50" font-weight="normal">-</tspan><tspan x="673.3" y="1015.5" font-size="48">9</tspan><tspan x="696.6" y="1044.8" font-size="71"> M</tspan></text>
<text class="lb"><tspan x="588.5" y="1192.0" font-size="71.5">10</tspan><tspan x="657.9" y="1165.5" font-size="50" font-weight="normal">-</tspan><tspan x="675.2" y="1162.2" font-size="48">10</tspan><tspan x="720.5" y="1192.0" font-size="71"> M</tspan></text>
<text class="ax" font-size="97.2" transform="translate(89.7 921.9) rotate(-90)">Intensity (a.u.)</text>
<text class="ax"><tspan x="659.8" y="1501" font-size="97.7">Raman shift </tspan><tspan x="1156.4" y="1501.7" font-size="70">(</tspan><tspan x="1179.3" y="1501" font-size="97.7">cm</tspan><tspan x="1296.4" y="1460" font-size="70">-</tspan><tspan x="1320" y="1459.6" font-size="64">1</tspan><tspan x="1352.2" y="1501.7" font-size="70">)</tspan></text>
</svg>
</body></html>
